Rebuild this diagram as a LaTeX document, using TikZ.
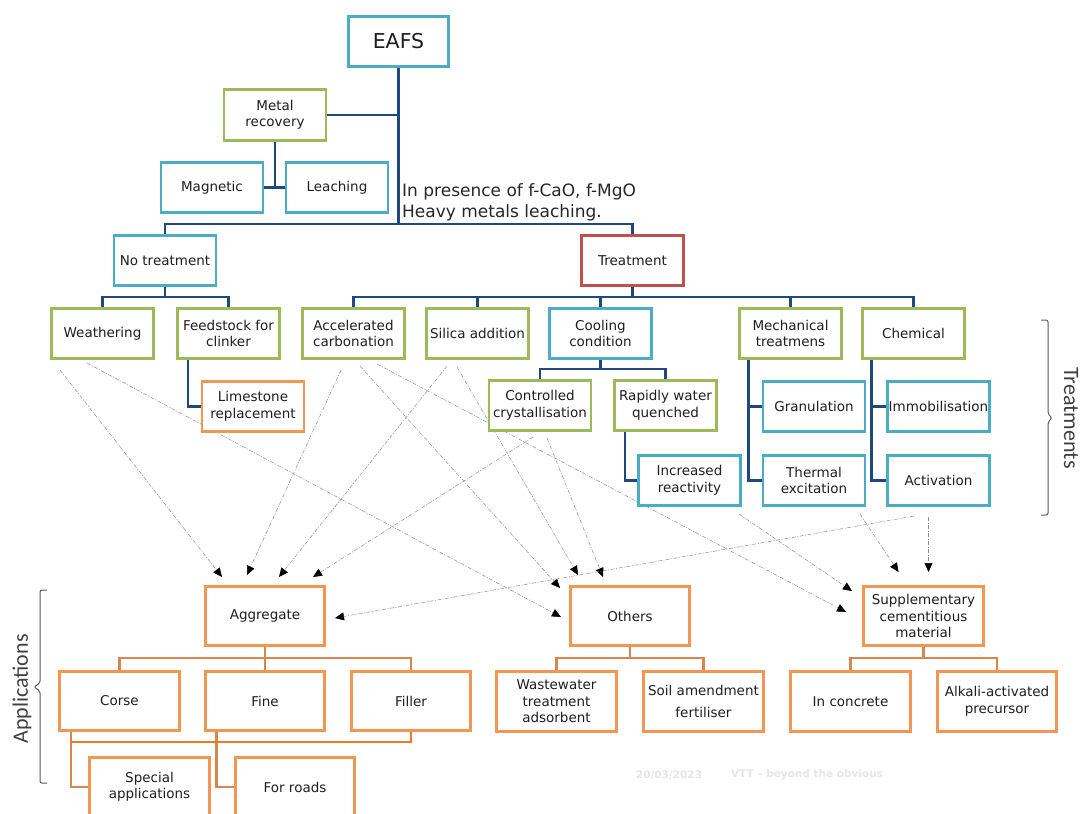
\documentclass[tikz,border=0pt]{standalone}
\usepackage{fontspec}
\setmainfont{DejaVu Sans}
\newfontfamily\sidefont{Carlito}
\usetikzlibrary{arrows.meta}
\definecolor{boxblue}{RGB}{75,172,198}
\definecolor{boxgreen}{RGB}{155,187,89}
\definecolor{boxred}{RGB}{192,80,77}
\definecolor{boxorange}{RGB}{242,150,82}
\definecolor{linknavy}{RGB}{31,73,125}
\definecolor{linkorange}{RGB}{214,134,78}
\definecolor{linkorangedark}{RGB}{236,122,36}
\pgfdeclarelayer{behind}
\pgfsetlayers{behind,main}
\tikzset{
  tbox/.style={draw, line width=2.6pt, fill=white, align=center, inner sep=1pt,
    minimum width=102pt, minimum height=50.5pt, text=black!88,
    font=\fontsize{13.5}{16.5}\selectfont},
  bluebox/.style={tbox, draw=boxblue},
  greenbox/.style={tbox, draw=boxgreen},
  redbox/.style={tbox, draw=boxred},
  orangebox/.style={tbox, draw=boxorange},
  appbox/.style={tbox, draw=boxorange, minimum width=119.5pt, minimum height=59.5pt},
  link/.style={draw=linknavy, line width=2.4pt},
  olink/.style={draw=linkorange, line width=2.4pt},
  olinkdark/.style={draw=linkorangedark, line width=2.4pt},
  flow/.style={draw=black!45, line width=0.5pt,
    dash pattern=on 4pt off 1.5pt on 1pt off 1.5pt,
    -{Triangle[length=9pt,width=8pt,black]}},
  brk/.style={draw=black!65, line width=1pt, rounded corners=2pt},
  side/.style={font=\sidefont\fontsize{22}{24}\selectfont, text=black!75},
  footer/.style={font=\fontsize{10.5}{12}\selectfont\bfseries, text=black!10}
}

\begin{document}
\begin{tikzpicture}[x=1pt,y=-1pt]
  \useasboundingbox (0,0) rectangle (1082,814);
  \clip (0,0) rectangle (1082,814);

  \node[bluebox, minimum width=100pt, font=\fontsize{20.5}{24}\selectfont] (eafs) at (398.5,41.5) {EAFS};
  \node[greenbox] (metal) at (275,115) {Metal\\recovery};
  \node[bluebox] (magn) at (212,187.5) {Magnetic};
  \node[bluebox] (leach) at (337,187.5) {Leaching};
  \node[anchor=north west, align=left, inner sep=0pt, text=black!85, font=\fontsize{17}{21}\selectfont] (note) at (402,183) {In presence of f-CaO, f-MgO\\Heavy metals leaching.};
  \node[bluebox] (notreat) at (165,260.5) {No treatment};
  \node[redbox] (treat) at (632.5,260.5) {Treatment};

  \node[greenbox] (weath) at (102.5,333.5) {Weathering};
  \node[greenbox] (feed) at (228.5,333.5) {Feedstock for\\clinker};
  \node[greenbox] (accel) at (353.5,333.5) {Accelerated\\carbonation};
  \node[greenbox] (silica) at (477.5,333.5) {Silica addition};
  \node[bluebox] (cool) at (600.5,333.5) {Cooling\\condition};
  \node[greenbox] (mech) at (790.5,333.5) {Mechanical\\treatmens};
  \node[greenbox] (chem) at (913.5,333.5) {Chemical};

  \node[orangebox] (lime) at (253,406.5) {Limestone\\replacement};
  \node[greenbox] (ctrl) at (540,405.5) {Controlled\\crystallisation};
  \node[greenbox] (rapid) at (665.5,405.5) {Rapidly water\\quenched};
  \node[bluebox] (gran) at (814,406.5) {Granulation};
  \node[bluebox] (immob) at (938.5,406.5) {Immobilisation};
  \node[bluebox] (incr) at (689.5,480.5) {Increased\\reactivity};
  \node[bluebox] (therm) at (814,480.5) {Thermal\\excitation};
  \node[bluebox] (activ) at (938.5,480.5) {Activation};

  \node[appbox] (agg) at (265,616) {Aggregate};
  \node[appbox] (others) at (630,616) {Others};
  \node[appbox] (scm) at (923.5,616) {Supplementary\\cementitious\\material};
  \node[appbox] (corse) at (119.5,701) {Corse};
  \node[appbox] (fine) at (265,701) {Fine};
  \node[appbox] (filler) at (411,701) {Filler};
  \node[appbox] (waste) at (556.5,701.5) {Wastewater\\treatment\\adsorbent};
  \node[appbox] (soil) at (703.5,701.5) {Soil amendment\\[5pt]fertiliser};
  \node[appbox] (concrete) at (850.5,701.5) {In concrete};
  \node[appbox] (alkali) at (997,701.5) {Alkali-activated\\precursor};
  \node[appbox] (special) at (149.5,787) {Special\\applications};
  \node[appbox] (roads) at (295,787) {For roads};

  \draw[link] (eafs.south) -- ++(0,156);
  \draw[link] (metal.east) -- (metal.east -| eafs.south);
  \draw[link] (metal.south) -- (metal.south |- magn.east);
  \draw[link] (magn.east) -- (leach.west);
  \draw[link] (notreat.north) -- ++(0,-10) -| (treat.north);
  \draw[link] (notreat.south) -- ++(0,10);
  \draw[link] (weath.north) -- ++(0,-10) -| (feed.north);
  \draw[link] (treat.south) -- ++(0,10);
  \draw[link] (accel.north) -- ++(0,-10) -| (chem.north);
  \foreach \n in {silica,cool,mech}
    \draw[link] (\n.north) -- ++(0,-10);
  \draw[link] ([xshift=-40.5pt]feed.south) |- (lime.west);
  \draw[link] (cool.south) -- ++(0,9);
  \draw[link] (ctrl.north) -- ++(0,-10) -| (rapid.north);
  \draw[link] ([xshift=-40.5pt]rapid.south) |- (incr.west);
  \draw[link] ([xshift=-42pt]mech.south) |- (therm.west);
  \draw[link] (gran.west) -- ++(-13.5,0);
  \draw[link] ([xshift=-42pt]chem.south) |- (activ.west);
  \draw[link] (immob.west) -- ++(-14.7,0);

  \draw[olink] (agg.south) -- (fine.north);
  \draw[olink] (corse.north) -- ++(0,-12) -| (filler.north);
  \draw[olink] (others.south) -- ++(0,11);
  \draw[olink] (waste.north) -- ++(0,-12.5) -| (soil.north);
  \draw[olink] (scm.south) -- ++(0,11);
  \draw[olink] (concrete.north) -- ++(0,-12.5) -| (alkali.north);
  \draw[olink] ([xshift=-48.5pt]corse.south) |- (special.west);
  \draw[olink] ([xshift=-48.5pt]fine.south) |- (roads.west);
  \draw[olinkdark] ([xshift=-48.5pt,yshift=-10pt]corse.south) -| (filler.south);

  \begin{pgfonlayer}{behind}
    \coordinate (a1) at (222,577);
    \coordinate (a2) at (247,575);
    \coordinate (a3) at (279,577);
    \coordinate (a4) at (313,577);
    \coordinate (a5) at (335,618);
    \coordinate (o1) at (578,575);
    \coordinate (o2) at (603,577);
    \coordinate (o3) at (560,588);
    \coordinate (o4) at (561,617);
    \coordinate (s1) at (846,612);
    \coordinate (s2) at (852,591);
    \coordinate (s3) at (898.5,572);
    \coordinate (s4) at (928.5,572);
    \draw[flow] ([xshift=-42.5pt,yshift=-10pt]weath.south) -- (a1);
    \draw[flow] ([xshift=-15.5pt,yshift=-3pt]weath.south) -- (o4);
    \draw[flow] ([xshift=-12.5pt,yshift=-10pt]accel.south) -- (a2);
    \draw[flow] ([xshift=6.5pt,yshift=-6pt]accel.south) -- (o3);
    \draw[flow] ([xshift=23.5pt,yshift=-4pt]accel.south) -- (s1);
    \draw[flow] ([xshift=-30.5pt,yshift=-6pt]silica.south) -- (a3);
    \draw[flow] ([xshift=-20.5pt,yshift=-7pt]silica.south) -- (o1);
    \draw[flow] ([xshift=-7pt,yshift=-5pt]ctrl.south) -- (a4);
    \draw[flow] ([xshift=7pt,yshift=-6pt]ctrl.south) -- (o2);
    \draw[flow] ([xshift=49.5pt,yshift=-7pt]incr.south) -- (s2);
    \draw[flow] ([xshift=46pt,yshift=-7pt]therm.south) -- (s3);
    \draw[flow] ([xshift=-10pt,yshift=-10pt]activ.south) -- (s4);
    \draw[flow] ([xshift=-24.5pt,yshift=-9pt]activ.south) -- (a5);
  \end{pgfonlayer}

  \draw[brk] (1041,320) -- (1048,320) -- (1048,414) -- (1052,418) -- (1048,422) -- (1048,515) -- (1041,515);
  \node[side, rotate=-90] (treatlbl) at (1071,418) {Treatments};
  \draw[brk] (47,590) -- (40,590) -- (40,683) -- (34,687) -- (40,691) -- (40,783) -- (47,783);
  \node[side, rotate=90] (applbl) at (22,689) {Applications};

  \node[footer] (date) at (669,775) {20/03/2023};
  \node[footer] (tagline) at (807,775) {VTT – beyond the obvious};
\end{tikzpicture}
\end{document}
